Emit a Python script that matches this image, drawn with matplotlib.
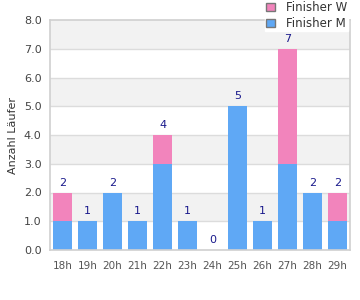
import matplotlib
matplotlib.use('Agg')
import matplotlib.pyplot as plt
from matplotlib.patches import Patch
import numpy as np

# data
stunden = ['18h', '19h', '20h', '21h', '22h', '23h', '24h', '25h', '26h', '27h', '28h', '29h']
finisher_m = [1, 1, 2, 1, 3, 1, 0, 5, 1, 3, 2, 1]
finisher_w = [1, 0, 0, 0, 1, 0, 0, 0, 0, 4, 0, 1]

blau = '#5fa8f5'
rosa = '#f284bc'

fig = plt.figure(figsize=(3.6, 3.0), dpi=100)
ax = fig.add_axes([50/360, 50/300, 300/360, 230/300])

x = np.arange(len(stunden))
m = np.array(finisher_m)
w = np.array(finisher_w)

# abwechselnde Hintergrundstreifen
for i in range(8):
    if i % 2 == 1:
        ax.axhspan(i, i + 1, color='#f2f2f2', zorder=0, lw=0)
for i in range(1, 8):
    ax.axhline(i, color='#dcdcdc', lw=1, zorder=1)

ax.bar(x, m, width=0.76, color=blau, zorder=2)
ax.bar(x, w, width=0.76, bottom=m, color=rosa, zorder=2)

summe = m + w
for xi, s in zip(x, summe):
    ax.text(xi, s + 0.17, '%d' % s, ha='center', va='bottom', fontsize=8, color='#1a1a8c')

ax.set_xlim(-0.5, len(stunden) - 0.5)
ax.set_ylim(0, 8)
ax.set_yticks(np.arange(0, 9, 1))
ax.set_yticklabels(['%.1f' % v for v in range(9)])
ax.set_xticks(x)
ax.set_xticklabels(stunden)
ax.tick_params(axis='both', length=0, labelsize=8, colors='#444444')
ax.tick_params(axis='x', pad=8, labelsize=7.5, colors='#555555')
ax.tick_params(axis='y', pad=6)
for sp in ax.spines.values():
    sp.set_color('#d0d0d0')
    sp.set_linewidth(1.2)
ax.set_ylabel('Anzahl Läufer', fontsize=8, color='#333333', labelpad=4)

handles = [Patch(facecolor=rosa, edgecolor='#777777', label='Finisher W'),
           Patch(facecolor=blau, edgecolor='#777777', label='Finisher M')]
leg = fig.legend(handles=handles, loc='upper right', bbox_to_anchor=(348/360, 1.0),
                 borderaxespad=0, fontsize=8.5, frameon=True, fancybox=False,
                 handlelength=0.75, handleheight=0.75, borderpad=0.1,
                 labelspacing=0.25, handletextpad=0.9)
leg.get_frame().set_edgecolor('white')
leg.get_frame().set_alpha(1)
for t in leg.get_texts():
    t.set_color('#333333')

plt.savefig('out.png', dpi=100)
